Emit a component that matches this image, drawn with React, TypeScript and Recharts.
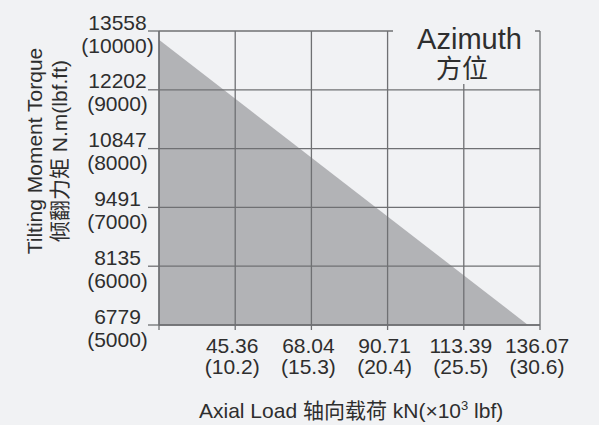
import React from "react"
import { ComposedChart, Area, XAxis, YAxis, ReferenceLine } from "recharts"

// axial load ticks, kN and (x10^3 lbf)
const loadTicksKn = [22.68, 45.36, 68.04, 90.71, 113.39, 136.07]
const loadTicksKlbf = ["", "10.2", "15.3", "20.4", "25.5", "30.6"]

// tilting moment ticks, lbf.ft and N.m
const momentTicksLbfFt = [5000, 6000, 7000, 8000, 9000, 10000]
const momentTicksNm = ["6779", "8135", "9491", "10847", "12202", "13558"]

// allowable load envelope (azimuth)
const envelopeLoad = [22.68, 132.5]
const envelopeMoment = [9850, 5000]

const chartData = envelopeLoad.map((load, i) => ({ load, moment: envelopeMoment[i] }))

const BG = "#f1f2f4"
const LINE = "#6f7073"
const FILL = "#b2b3b6"
const TEXT = "#2e2e2e"
const FONT = "'Liberation Sans', Arial, 'Noto Sans CJK SC', sans-serif"

if (typeof document !== "undefined") {
  document.body.style.margin = "0"
  document.body.style.background = BG
}

const XTick = (props: any) => {
  const { x, y, payload } = props
  const i = loadTicksKn.indexOf(payload.value)
  if (i <= 0) return null
  return (
    <g>
      <text x={x - 3} y={y + 23} textAnchor="middle" fill={TEXT} fontSize={21} fontFamily={FONT}>
        {loadTicksKn[i].toFixed(2)}
      </text>
      <text x={x - 3} y={y + 44} textAnchor="middle" fill={TEXT} fontSize={21} fontFamily={FONT}>
        ({loadTicksKlbf[i]})
      </text>
    </g>
  )
}

const YTick = (props: any) => {
  const { x, y, payload } = props
  const i = momentTicksLbfFt.indexOf(payload.value)
  if (i < 0) return null
  return (
    <g>
      <text x={x - 30.5} y={y - 1.5} textAnchor="middle" fill={TEXT} fontSize={21} fontFamily={FONT}>
        {momentTicksNm[i]}
      </text>
      <text x={x - 30.5} y={y + 21.5} textAnchor="middle" fill={TEXT} fontSize={21} fontFamily={FONT}>
        ({momentTicksLbfFt[i]})
      </text>
    </g>
  )
}

export default function App() {
  return (
    <div style={{ position: "relative", width: 599, height: 425, background: BG }}>
      <ComposedChart
        width={599}
        height={425}
        data={chartData}
        margin={{ top: 31, right: 59, bottom: 0, left: 0 }}
      >
        <XAxis
          dataKey="load"
          type="number"
          domain={[22.68, 136.07]}
          ticks={loadTicksKn}
          interval={0}
          height={100}
          tick={<XTick />}
          tickSize={5}
          tickMargin={0}
          axisLine={{ stroke: LINE, strokeWidth: 1.3 }}
          tickLine={{ stroke: LINE, strokeWidth: 1.3 }}
        />
        <YAxis
          type="number"
          domain={[5000, 10000]}
          ticks={momentTicksLbfFt}
          interval={0}
          width={159}
          tick={<YTick />}
          tickSize={11}
          tickMargin={0}
          axisLine={{ stroke: LINE, strokeWidth: 1.3 }}
          tickLine={{ stroke: LINE, strokeWidth: 1.3 }}
        />
        <Area
          dataKey="moment"
          type="linear"
          stroke="none"
          fill={FILL}
          fillOpacity={1}
          baseValue={5000}
          isAnimationActive={false}
        />
        {loadTicksKn.map((v) => (
          <ReferenceLine key={"x" + v} x={v} stroke={LINE} strokeWidth={1.3} />
        ))}
        {momentTicksLbfFt.map((v) => (
          <ReferenceLine key={"y" + v} y={v} stroke={LINE} strokeWidth={1.3} />
        ))}
        <text
          x={199}
          y={417.5}
          fill={TEXT}
          fontSize={21}
          fontFamily={FONT}
        >
          Axial Load 轴向载荷 kN(×10<tspan fontSize={13} dy={-8}>3</tspan>
          <tspan dy={8}> lbf)</tspan>
        </text>
        <g transform="translate(0,151) rotate(-90)">
          <text x={0} y={42} textAnchor="middle" fill={TEXT} fontSize={21} fontFamily={FONT}>
            Tilting Moment Torque
          </text>
          <text x={0} y={67} textAnchor="middle" fill={TEXT} fontSize={21} fontFamily={FONT}>
            倾翻力矩 N.m(lbf.ft)
          </text>
        </g>
      </ComposedChart>
      <div
        style={{
          position: "absolute",
          left: 393,
          top: 24,
          width: 142,
          height: 60,
          background: BG,
          color: TEXT,
          fontFamily: FONT,
          textAlign: "center",
        }}
      >
        <div style={{ position: "absolute", left: 0, width: 153, top: 0, fontSize: 29, lineHeight: "30px" }}>
          Azimuth
        </div>
        <div style={{ position: "absolute", left: 0, width: 138, top: 31, fontSize: 26, lineHeight: "28px" }}>
          方位
        </div>
      </div>
    </div>
  )
}
